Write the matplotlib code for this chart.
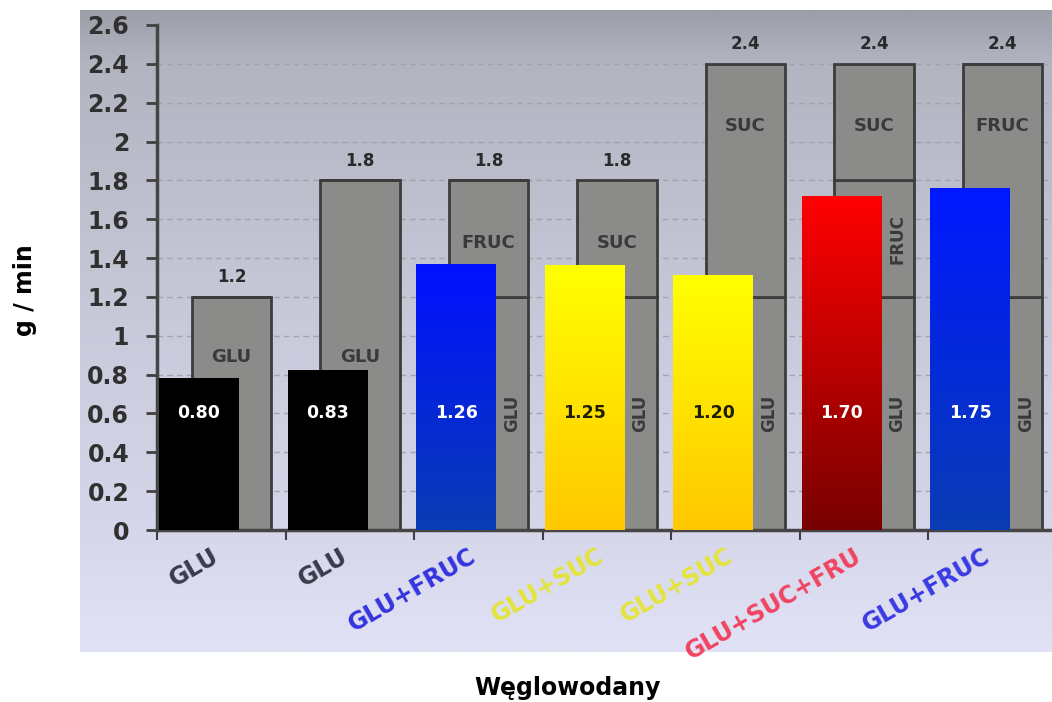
import numpy as np
import matplotlib
matplotlib.use("Agg")
import matplotlib.pyplot as plt
from matplotlib.colors import to_rgb

# chart data
categories = ['GLU', 'GLU', 'GLU+FRUC', 'GLU+SUC', 'GLU+SUC', 'GLU+SUC+FRU', 'GLU+FRUC']
cat_colors = ['#3a3a4a', '#3a3a4a', '#3434e0', '#e4e43c', '#e4e43c', '#f04462', '#3a3ae4']

measured = [0.78, 0.82, 1.365, 1.36, 1.31, 1.715, 1.76]
measured_labels = ['0.80', '0.83', '1.26', '1.25', '1.20', '1.70', '1.75']
bar_top = ['#000000', '#000000', '#0010ff', '#ffff00', '#ffff00', '#ff0000', '#0018ff']
bar_bottom = ['#000000', '#000000', '#0a3cb4', '#ffc800', '#ffc800', '#780000', '#0a3cb4']
label_color = ['white', 'white', 'white', '#1e1e00', '#1e1e00', 'white', 'white']

glu_cap = [1.2, 1.8, 1.2, 1.2, 1.2, 1.2, 1.2]
fruc_cap = [0, 0, 0.6, 0, 0, 0.6, 1.2]
suc_cap = [0, 0, 0, 0.6, 1.2, 0.6, 0]

yticks = [0, 0.2, 0.4, 0.6, 0.8, 1, 1.2, 1.4, 1.6, 1.8, 2, 2.2, 2.4, 2.6]

W, H = 1052, 702
fig = plt.figure(figsize=(W / 100, H / 100), dpi=100)
fig.patch.set_facecolor('white')

# background panel with vertical gradient
bg = fig.add_axes([80 / W, 1 - 652 / H, (W - 80) / W, (652 - 10) / H], zorder=0)
stops = [(0.0, '#9c9ea8'), (0.08, '#b2b4c0'), (0.45, '#c6c8d8'), (0.8, '#d6d6ea'), (1.0, '#e2e2f6')]
n = 256
t = np.linspace(0, 1, n)
grad = np.zeros((n, 1, 3))
for c in range(3):
    grad[:, 0, c] = np.interp(t, [s[0] for s in stops], [to_rgb(s[1])[c] for s in stops])
bg.imshow(grad, aspect='auto', extent=(0, 1, 0, 1), origin='upper')
bg.axis('off')

ax = fig.add_axes([157 / W, 1 - 530 / H, 7 * 128.5 / W, 505 / H], zorder=1)
ax.set_facecolor('none')

x = np.arange(len(categories))
bw = 0.62
col_off = -0.173
gray_off = 0.08
gray_fc = '#8b8b8a'
gray_ec = '#3c3c3c'

# stacked gray capacity boxes
bottom = np.zeros(len(x))
for seg, name in [(glu_cap, 'GLU'), (fruc_cap, 'FRUC'), (suc_cap, 'SUC')]:
    seg = np.array(seg, dtype=float)
    ax.bar(x + gray_off, seg, bw, bottom=bottom, color=gray_fc, edgecolor=gray_ec,
           linewidth=2, zorder=2)
    for i in x:
        if seg[i] <= 0:
            continue
        lo, hi = bottom[i], bottom[i] + seg[i]
        if name == 'GLU':
            covered = measured[i] > 1.0
        else:
            covered = measured[i] >= (lo + hi) / 2
        if covered:
            # hidden behind the coloured bar: vertical text in the visible strip
            sx = (i + col_off + bw / 2 + i + gray_off + bw / 2) / 2
            sy = 0.6 if name == 'GLU' else (lo + hi) / 2
            ax.text(sx, sy, name, rotation=90, ha='center', va='center',
                    fontsize=12, fontweight='bold', color='#3a3a3a', zorder=2.5)
        else:
            sy = 0.89 if name == 'GLU' else hi - 0.32
            ax.text(i + gray_off, sy, name, ha='center', va='center',
                    fontsize=13, fontweight='bold', color='#3a3a3a', zorder=2.5)
    bottom = bottom + seg

totals = bottom
for i in x:
    ax.text(i + gray_off, totals[i] + 0.1, f'{totals[i]:.1f}', ha='center', va='center',
            fontsize=12, fontweight='bold', color='#2a2a2a', zorder=4)

# measured oxidation bars with gradients
bars = ax.bar(x + col_off, measured, bw, color='none', linewidth=0, zorder=3)
for i, b in enumerate(bars):
    g = np.zeros((64, 1, 3))
    top, bot = to_rgb(bar_top[i]), to_rgb(bar_bottom[i])
    for c in range(3):
        g[:, 0, c] = np.linspace(top[c], bot[c], 64)
    x0 = b.get_x()
    ax.imshow(g, aspect='auto', extent=(x0, x0 + b.get_width(), 0, measured[i]),
              origin='upper', zorder=3, interpolation='bilinear')
    ax.text(i + col_off, 0.6, measured_labels[i], ha='center', va='center',
            fontsize=12.5, fontweight='bold', color=label_color[i], zorder=4)

ax.set_xlim(-0.5, len(x) - 0.5)
ax.set_ylim(0, 2.6)

ax.set_yticks(yticks)
ax.set_yticklabels([f'{v:g}' for v in yticks], fontsize=17, fontweight='bold', color='#303030')
ax.yaxis.grid(True, linestyle=(0, (4, 3)), color='#a2a2b0', linewidth=1, zorder=0.5)
ax.set_axisbelow(True)

# category labels sit a little left of the category centre
ax.set_xticks(x - 0.08)
ax.set_xticklabels(categories, rotation=30, ha='right', rotation_mode='anchor',
                   fontsize=17, fontweight='bold')
for lbl, c in zip(ax.get_xticklabels(), cat_colors):
    lbl.set_color(c)
ax.tick_params(axis='x', which='major', length=0, pad=10)
ax.set_xticks(np.arange(-0.5, len(x)), minor=True)
ax.tick_params(axis='x', which='minor', length=7, width=1.5, color='#404040', direction='out')
ax.tick_params(axis='y', length=8, width=2, color='#404040', pad=12)

for s in ['top', 'right']:
    ax.spines[s].set_visible(False)
for s in ['left', 'bottom']:
    ax.spines[s].set_color('#454545')
    ax.spines[s].set_linewidth(2.5)

fig.text(25 / W, 1 - 290 / H, 'g / min', rotation=90, ha='center', va='center',
         fontsize=17, fontweight='bold', color='black')
fig.text(567 / W, 1 - 688 / H, 'Węglowodany', ha='center', va='center',
         fontsize=17, fontweight='bold', color='black')

fig.savefig('out.png', dpi=100)
